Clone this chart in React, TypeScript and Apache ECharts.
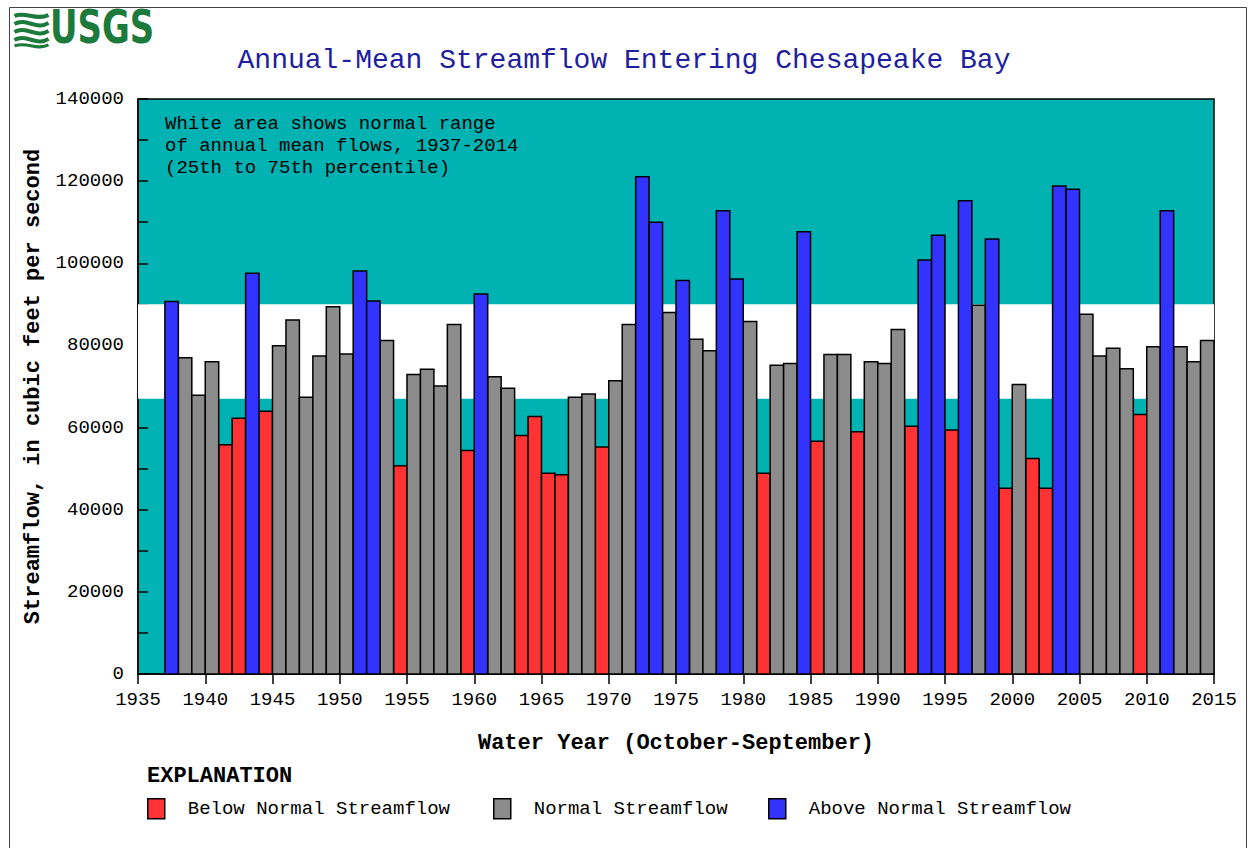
import React, { useEffect, useRef } from "react";
import * as echarts from "echarts";

const years = [
  1937, 1938, 1939, 1940, 1941, 1942, 1943, 1944, 1945, 1946, 1947, 1948, 1949,
  1950, 1951, 1952, 1953, 1954, 1955, 1956, 1957, 1958, 1959, 1960, 1961, 1962,
  1963, 1964, 1965, 1966, 1967, 1968, 1969, 1970, 1971, 1972, 1973, 1974, 1975,
  1976, 1977, 1978, 1979, 1980, 1981, 1982, 1983, 1984, 1985, 1986, 1987, 1988,
  1989, 1990, 1991, 1992, 1993, 1994, 1995, 1996, 1997, 1998, 1999, 2000, 2001,
  2002, 2003, 2004, 2005, 2006, 2007, 2008, 2009, 2010, 2011, 2012, 2013, 2014,
];

const flows = [
  90700, 77000, 67900, 76000, 55800, 62300, 97600, 64000, 79900, 86200, 67400, 77400, 89400,
  77900, 98100, 90800, 81200, 50700, 72900, 74200, 70100, 85100, 54400, 92500, 72400, 69600,
  58100, 62700, 48900, 48500, 67400, 68200, 55300, 71400, 85100, 121100, 110000, 88000, 95800,
  81500, 78700, 112800, 96200, 85800, 48900, 75200, 75600, 107700, 56700, 77800, 77800, 59000,
  76000, 75600, 83900, 60300, 100800, 106800, 59400, 115200, 89800, 105900, 45200, 70500, 52500,
  45200, 118800, 118000, 87600, 77400, 79300, 74300, 63200, 79700, 112800, 79700, 76000, 81200,
];

// B = below normal, N = normal, A = above normal
const classes = [
  "A", "N", "N", "N", "B", "B", "A", "B", "N", "N", "N", "N", "N",
  "N", "A", "A", "N", "B", "N", "N", "N", "N", "B", "A", "N", "N",
  "B", "B", "B", "B", "N", "N", "B", "N", "N", "A", "A", "N", "A",
  "N", "N", "A", "A", "N", "B", "N", "N", "A", "B", "N", "N", "B",
  "N", "N", "N", "B", "A", "A", "B", "A", "N", "A", "B", "N", "B",
  "B", "A", "A", "N", "N", "N", "N", "B", "N", "A", "N", "N", "N",
];

const normalRange = [67000, 90000]; // 25th and 75th percentile

const seriesNames = ["Below Normal Streamflow", "Normal Streamflow", "Above Normal Streamflow"];
const seriesKeys = ["B", "N", "A"];
const seriesColors = ["#FF3333", "#8C8C8C", "#3333FF"];

const yTicks = [0, 20000, 40000, 60000, 80000, 100000, 120000, 140000];

const MONO = "'Liberation Mono', 'DejaVu Sans Mono', monospace";

export default function App() {
  const ref = useRef<HTMLDivElement>(null);

  useEffect(() => {
    document.body.style.margin = "0";
    const chart = echarts.init(ref.current!, null, { renderer: "svg" });

    const renderBar = (color: string) => (params: any, api: any) => {
      const year = api.value(0);
      const val = api.value(1);
      const p1 = api.coord([year, val]);
      const p2 = api.coord([year + 1, 0]);
      return {
        type: "rect",
        shape: { x: p1[0], y: p1[1], width: p2[0] - p1[0], height: p2[1] - p1[1] },
        style: { fill: color, stroke: "#000", lineWidth: 1.5 },
      };
    };

    const barSeries = seriesKeys.map((key, i) => ({
      name: seriesNames[i],
      type: "custom",
      z: 3,
      renderItem: renderBar(seriesColors[i]),
      itemStyle: { color: seriesColors[i], borderColor: "#000", borderWidth: 1.5 },
      encode: { x: 0, y: 1 },
      data: years
        .map((y, j) => (classes[j] === key ? [y, flows[j]] : null))
        .filter((d) => d !== null),
    }));

    const legendLefts = [147, 493, 768];
    const legends = seriesNames.map((name, i) => ({
      left: legendLefts[i],
      top: 798,
      padding: 0,
      orient: "horizontal",
      selectedMode: false,
      itemWidth: 17,
      itemHeight: 20,
      data: [
        {
          name,
          icon: "rect",
          itemStyle: { color: seriesColors[i], borderColor: "#000", borderWidth: 1.5 },
        },
      ],
      textStyle: { fontSize: 19, fontFamily: MONO, color: "#000", padding: [0, 0, 0, 18] },
    }));

    const option: any = {
      animation: false,
      backgroundColor: "#fff",
      title: {
        text: "Annual-Mean Streamflow Entering Chesapeake Bay",
        left: "center",
        top: 41,
        textStyle: { fontSize: 28, fontFamily: MONO, fontWeight: "normal", color: "#1E1E9E" },
      },
      legend: legends,
      grid: {
        left: 138,
        top: 99,
        width: 1076,
        height: 575,
        show: true,
        backgroundColor: "#00B2B2",
        borderColor: "#000",
        borderWidth: 1.5,
      },
      xAxis: {
        type: "value",
        min: 1935,
        max: 2015,
        interval: 5,
        name: "Water Year (October-September)",
        nameLocation: "middle",
        nameGap: 58,
        nameTextStyle: { fontSize: 22, fontWeight: "bold", fontFamily: MONO, color: "#000" },
        axisLine: { lineStyle: { color: "#000", width: 1.5 } },
        axisTick: { show: true, inside: false, length: 10, lineStyle: { color: "#000", width: 1.5 } },
        axisLabel: {
          fontSize: 19,
          fontFamily: MONO,
          color: "#000",
          margin: 16,
          formatter: (v: number) => String(v),
        },
        splitLine: { show: false },
      },
      yAxis: {
        type: "value",
        min: 0,
        max: 140000,
        interval: 10000,
        name: "Streamflow, in cubic feet per second",
        nameLocation: "middle",
        nameGap: 94,
        nameTextStyle: { fontSize: 22, fontWeight: "bold", fontFamily: MONO, color: "#000" },
        axisLine: { show: true, lineStyle: { color: "#000", width: 1.5 } },
        axisTick: { show: true, inside: true, length: 10, lineStyle: { color: "#000", width: 1.5 } },
        axisLabel: {
          fontSize: 19,
          fontFamily: MONO,
          color: "#000",
          margin: 14,
          formatter: (v: number) => (yTicks.indexOf(v) >= 0 ? String(v) : ""),
        },
        splitLine: { show: false },
      },
      graphic: [
        {
          type: "rect",
          left: 7,
          top: 5,
          shape: { width: 1237, height: 900 },
          style: { fill: "none", stroke: "#444", lineWidth: 1 },
          silent: true,
        },
        {
          type: "group",
          left: 12,
          top: 12,
          children: [
            { type: "bezierCurve", shape: { x1: 0, y1: 3, cpx1: 10, cpy1: -2, cpx2: 22, cpy2: 8, x2: 34, y2: 2 }, style: { stroke: "#1B7A3C", lineWidth: 4, fill: "none" } },
            { type: "bezierCurve", shape: { x1: 0, y1: 11, cpx1: 12, cpy1: 4, cpx2: 22, cpy2: 18, x2: 34, y2: 10 }, style: { stroke: "#1B7A3C", lineWidth: 4, fill: "none" } },
            { type: "bezierCurve", shape: { x1: 0, y1: 19, cpx1: 12, cpy1: 12, cpx2: 22, cpy2: 26, x2: 34, y2: 18 }, style: { stroke: "#1B7A3C", lineWidth: 4, fill: "none" } },
            { type: "bezierCurve", shape: { x1: 0, y1: 27, cpx1: 12, cpy1: 20, cpx2: 22, cpy2: 34, x2: 34, y2: 26 }, style: { stroke: "#1B7A3C", lineWidth: 4, fill: "none" } },
            { type: "bezierCurve", shape: { x1: 0, y1: 33, cpx1: 12, cpy1: 28, cpx2: 22, cpy2: 38, x2: 34, y2: 32 }, style: { stroke: "#1B7A3C", lineWidth: 3, fill: "none" } },
          ],
        },
        {
          type: "text",
          left: 50,
          top: 4,
          scaleX: 0.82,
          style: {
            text: "USGS",
            fontSize: 46,
            fontWeight: "bold",
            fontFamily: "'Liberation Sans Narrow', 'DejaVu Sans Condensed', sans-serif",
            fill: "#1B7A3C",
          },
        },
        {
          type: "text",
          left: 165,
          top: 113,
          z: 10,
          style: {
            text: "White area shows normal range\nof annual mean flows, 1937-2014\n(25th to 75th percentile)",
            fontSize: 19,
            lineHeight: 22,
            fontFamily: MONO,
            fill: "#000",
          },
        },
        {
          type: "text",
          left: 147,
          top: 765,
          style: {
            text: "EXPLANATION",
            fontSize: 22,
            fontWeight: "bold",
            fontFamily: MONO,
            fill: "#000",
          },
        },
      ],
      series: [
        {
          name: "normal-range",
          type: "line",
          z: 1,
          data: [],
          silent: true,
          markArea: {
            silent: true,
            itemStyle: { color: "#FFFFFF" },
            data: [[{ yAxis: normalRange[0] }, { yAxis: normalRange[1] }]],
          },
        },
        ...barSeries,
      ],
    };

    chart.setOption(option);
    return () => chart.dispose();
  }, []);

  return <div ref={ref} style={{ width: 1248, height: 848 }} />;
}
